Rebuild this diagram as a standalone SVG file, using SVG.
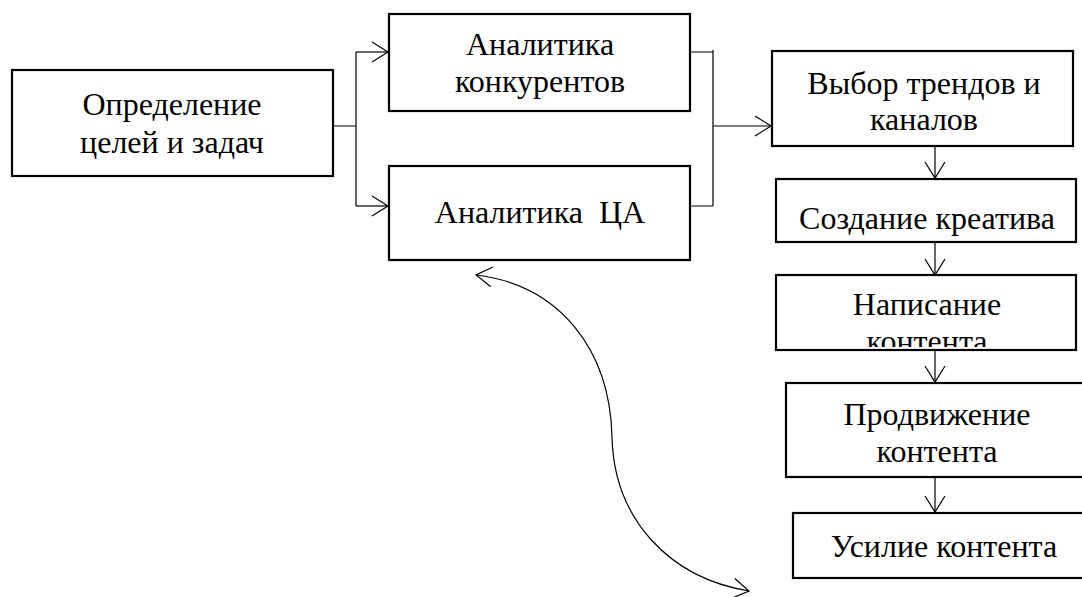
<svg xmlns="http://www.w3.org/2000/svg" width="1082" height="597" viewBox="0 0 1082 597">
<style>
.box{fill:#fff;stroke:#000;stroke-width:2.2}
.t{font-family:"Liberation Serif","Times New Roman",serif;font-size:32px;fill:#000;text-anchor:middle}
.c{fill:none;stroke:#000;stroke-width:1.2}
</style>
<defs>
<marker id="ah" viewBox="-18 -12 20 24" refX="0" refY="0" markerWidth="20" markerHeight="24" markerUnits="userSpaceOnUse" orient="auto-start-reverse">
<path d="M-16,-10 L0,0 L-16,10" fill="none" stroke="#000" stroke-width="1.2"/>
</marker>
<clipPath id="clip6"><rect x="777" y="276" width="298" height="71"/></clipPath>
</defs>
<g id="connectors">
<path class="c" d="M333,126 H356 M356,52 V206"/>
<path class="c" d="M356,52 H388" marker-end="url(#ah)"/>
<path class="c" d="M356,206 H388" marker-end="url(#ah)"/>
<path class="c" d="M690,52 H713 M690,206 H713 M713,50 V206"/>
<path class="c" d="M713,126 H771" marker-end="url(#ah)"/>
<path class="c" d="M935,146 V178" marker-end="url(#ah)"/>
<path class="c" d="M935,242 V275" marker-end="url(#ah)"/>
<path class="c" d="M935,350 V382" marker-end="url(#ah)"/>
<path class="c" d="M935,477 V512" marker-end="url(#ah)"/>
<path class="c" d="M476,275 C560,285 610,350 612,437 C614,520 670,578 749,591" marker-start="url(#ah)" marker-end="url(#ah)"/>
</g>
<g id="n1"><rect class="box" x="12" y="70" width="321" height="106"/><text class="t" x="172" y="115">Определение</text><text class="t" x="172" y="153">целей и задач</text></g>
<g id="n2"><rect class="box" x="389" y="14" width="301" height="97"/><text class="t" x="540" y="55">Аналитика</text><text class="t" x="540" y="92">конкурентов</text></g>
<g id="n3"><rect class="box" x="389" y="166" width="301" height="94"/><text class="t" x="540" y="223" xml:space="preserve" style="white-space:pre">Аналитика  ЦА</text></g>
<g id="n4"><rect class="box" x="772" y="51" width="301" height="95"/><text class="t" x="924" y="94">Выбор трендов и</text><text class="t" x="924" y="130">каналов</text></g>
<g id="n5"><rect class="box" x="776" y="179" width="300" height="63"/><text class="t" x="927" y="229">Создание креатива</text></g>
<g id="n6"><rect class="box" x="776" y="275" width="300" height="75"/><g clip-path="url(#clip6)"><text class="t" x="927" y="315">Написание</text><text class="t" x="927" y="352">контента</text></g></g>
<g id="n7"><rect class="box" x="786" y="383" width="310" height="94"/><text class="t" x="937" y="425">Продвижение</text><text class="t" x="937" y="462">контента</text></g>
<g id="n8"><rect class="box" x="793" y="513" width="310" height="65"/><text class="t" x="944" y="557">Усилие контента</text></g>
</svg>
